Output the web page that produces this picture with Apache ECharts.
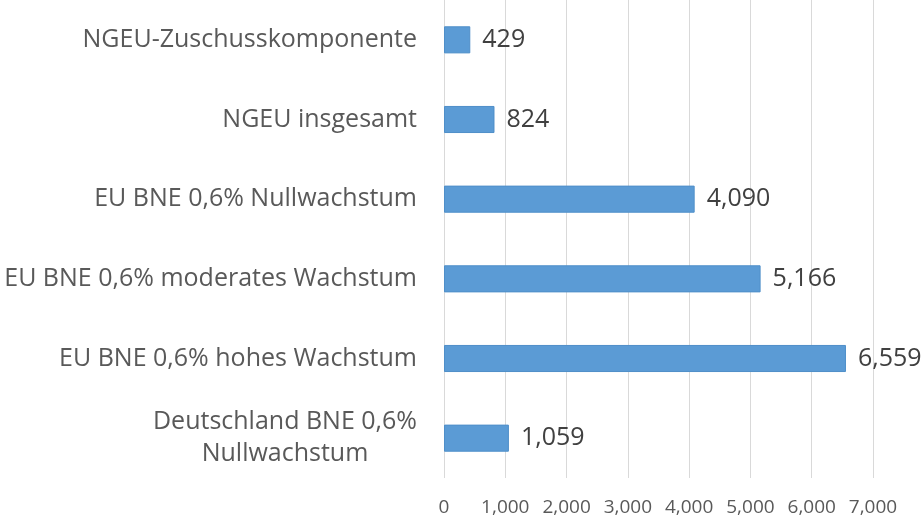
<!DOCTYPE html>
<html>
<head>
<meta charset="utf-8">
<script src="https://cdn.jsdelivr.net/npm/echarts@6/dist/echarts.min.js"></script>
<style>
  html, body { margin: 0; padding: 0; background: #fff; }
  #chart { width: 922px; height: 520px; }
</style>
</head>
<body>
<div id="chart"></div>
<script>
  // data, top to bottom as in the picture
  var categories = [
    'NGEU-Zuschusskomponente',
    'NGEU insgesamt',
    'EU BNE 0,6% Nullwachstum',
    'EU BNE 0,6% moderates Wachstum',
    'EU BNE 0,6% hohes Wachstum',
    'Deutschland BNE 0,6%\nNullwachstum'
  ]
  var values = [429, 824, 4090, 5166, 6559, 1059]
  var tickMax = 7000
  var tickStep = 1000

  var myChart = echarts.init(document.getElementById('chart'))
  var font = '"Open Sans", sans-serif'

  myChart.setOption({
    animation: false,
    grid: { left: 444, right: 49, top: 0, bottom: 42 },
    xAxis: {
      type: 'value',
      min: 0,
      max: tickMax,
      interval: tickStep,
      axisLine: { show: false },
      axisTick: { show: false },
      splitLine: { lineStyle: { color: '#d9d9d9', width: 1 } },
      axisLabel: {
        color: '#595959',
        fontFamily: font,
        fontSize: 19,
        margin: 20,
        formatter: function (v) { return v.toLocaleString('en-US') }
      }
    },
    yAxis: {
      type: 'category',
      inverse: true,
      data: categories,
      axisLine: { show: false },
      axisTick: { show: false },
      axisLabel: {
        color: '#595959',
        fontFamily: font,
        fontSize: 25,
        margin: 27,
        lineHeight: 32,
        formatter: function (v) {
          if (v.indexOf('\n') < 0) return v
          return v.split('\n').map(function (s) { return '{c|' + s + '}' }).join('\n')
        },
        rich: {
          c: { width: 264, align: 'center', fontFamily: font, fontSize: 25, color: '#595959', lineHeight: 32 }
        }
      }
    },
    series: [{
      type: 'bar',
      data: values,
      barCategoryGap: '66%',
      itemStyle: { color: '#5B9BD5', borderColor: '#4F8FC9', borderWidth: 1 },
      label: {
        show: true,
        position: 'right',
        distance: 12,
        color: '#404040',
        fontFamily: font,
        fontSize: 25,
        formatter: function (p) { return p.value.toLocaleString('en-US') }
      }
    }]
  })
</script>
</body>
</html>
